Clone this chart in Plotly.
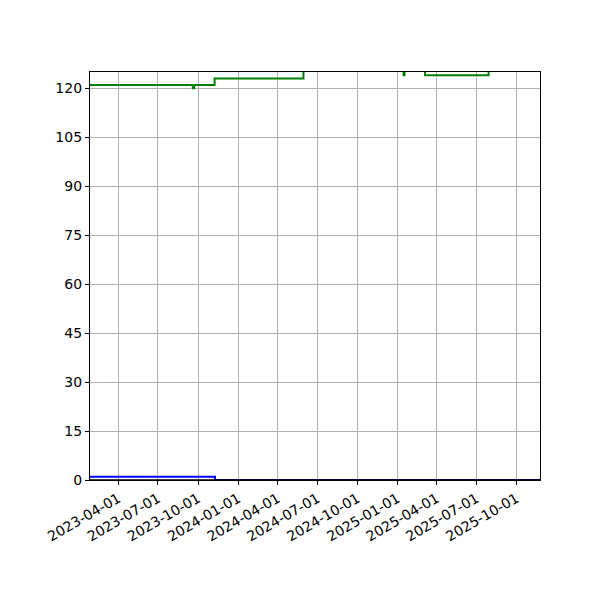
import plotly.graph_objects as go

green_dates = ["2023-01-26", "2023-09-19", "2023-09-22", "2023-11-08", "2024-05-30",
               "2025-01-15", "2025-01-17", "2025-03-05", "2025-07-29", "2025-11-24"]
green_values = [121, 120, 121, 123, 130, 124, 130, 124, 130, 130]

blue_dates = ["2023-01-26", "2023-11-09", "2025-11-24"]
blue_values = [1, 0, 0]

black_dates = ["2023-01-26", "2025-11-24"]
black_values = [0, 0]

tick_vals = ["2023-04-01", "2023-07-01", "2023-10-01", "2024-01-01", "2024-04-01",
             "2024-07-01", "2024-10-01", "2025-01-01", "2025-04-01", "2025-07-01", "2025-10-01"]

fig = go.Figure()
fig.add_trace(go.Scatter(x=green_dates, y=green_values, mode="lines", line_shape="hv",
                         line=dict(color="green", width=2), showlegend=False))
fig.add_trace(go.Scatter(x=blue_dates, y=blue_values, mode="lines", line_shape="hv",
                         line=dict(color="blue", width=2), showlegend=False))
fig.add_trace(go.Scatter(x=black_dates, y=black_values, mode="lines",
                         line=dict(color="black", width=1.5), showlegend=False))

fig.update_layout(
    width=600, height=600,
    margin=dict(l=82, r=68, t=64, b=128, autoexpand=False),
    plot_bgcolor="white", paper_bgcolor="white",
    font=dict(family="DejaVu Sans", size=14, color="black"),
)
fig.update_xaxes(
    range=["2023-01-26", "2025-11-24"],
    tickvals=tick_vals, ticktext=tick_vals, tickangle=-30,
    showgrid=True, gridcolor="#b0b0b0", gridwidth=1,
    showline=True, linecolor="black", linewidth=1.2, mirror=True,
    ticks="outside", ticklen=4, tickcolor="black", zeroline=False,
)
fig.update_yaxes(
    range=[0, 125], tickvals=list(range(0, 121, 15)),
    showgrid=True, gridcolor="#b0b0b0", gridwidth=1,
    showline=True, linecolor="black", linewidth=1.2, mirror=True,
    ticks="outside", ticklen=4, tickcolor="black", zeroline=False,
)
fig.write_html("out.html")
